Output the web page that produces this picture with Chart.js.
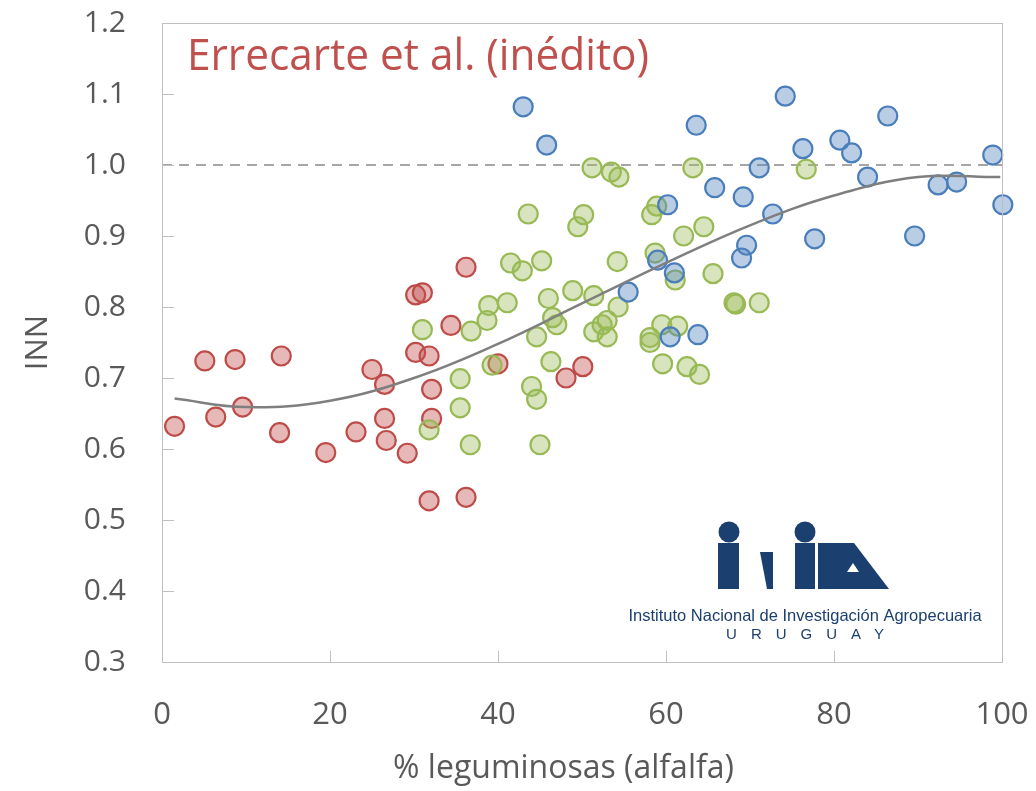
<!DOCTYPE html>
<html>
<head>
<meta charset="utf-8">
<script src="https://cdn.jsdelivr.net/npm/chart.js@4.4.1/dist/chart.umd.min.js"></script>
<style>
  body { margin: 0; background: #fff; }
  #wrap { width: 1036px; height: 791px; }
</style>
</head>
<body>
<div id="wrap"><canvas id="inn_chart" width="1036" height="791"></canvas></div>
<script>
// % leguminosas vs INN, three groups
let redX = [1.5, 5.1, 6.4, 8.7, 9.6, 14.2, 14.0, 19.5, 23.1, 25.0, 26.5, 26.5, 26.7, 29.2, 30.2, 31.0, 30.2, 31.8, 32.1, 32.1, 31.8, 34.4, 36.2, 36.2, 40.0, 48.1, 50.1];
let redY = [0.632, 0.724, 0.645, 0.726, 0.659, 0.731, 0.623, 0.595, 0.624, 0.712, 0.691, 0.643, 0.612, 0.594, 0.817, 0.820, 0.736, 0.731, 0.684, 0.643, 0.527, 0.774, 0.856, 0.532, 0.720, 0.700, 0.716];

let greenX = [51.2, 53.5, 54.4, 63.2, 76.7, 43.6, 50.2, 49.5, 58.9, 58.3, 62.1, 64.5, 41.5, 42.9, 45.2, 54.2, 58.7, 61.1, 65.6, 48.9, 51.4, 54.3, 46.0, 38.9, 41.1, 38.7, 36.8, 31.0, 46.5, 47.0, 51.4, 52.4, 53.0, 53.0, 59.5, 61.4, 44.6, 58.1, 58.1, 39.3, 35.5, 35.5, 31.8, 36.7, 44.0, 44.6, 45.0, 46.3, 59.6, 62.5, 64.0, 68.1, 68.3, 71.1];
let greenY = [0.996, 0.990, 0.983, 0.996, 0.994, 0.931, 0.930, 0.913, 0.942, 0.930, 0.900, 0.913, 0.862, 0.851, 0.865, 0.864, 0.876, 0.838, 0.847, 0.823, 0.816, 0.800, 0.812, 0.802, 0.806, 0.781, 0.766, 0.768, 0.785, 0.775, 0.765, 0.775, 0.781, 0.758, 0.775, 0.773, 0.758, 0.757, 0.750, 0.718, 0.699, 0.658, 0.627, 0.606, 0.688, 0.670, 0.606, 0.723, 0.720, 0.716, 0.705, 0.806, 0.804, 0.806];

let blueX = [43.0, 45.8, 55.5, 60.2, 59.0, 61.0, 60.5, 63.8, 63.6, 65.8, 69.2, 69.6, 69.0, 71.1, 72.7, 74.2, 76.3, 77.7, 80.7, 82.1, 84.0, 86.4, 89.6, 92.4, 94.6, 98.9, 100.1];
let blueY = [1.082, 1.028, 0.821, 0.944, 0.866, 0.848, 0.758, 0.761, 1.056, 0.968, 0.955, 0.887, 0.869, 0.996, 0.931, 1.097, 1.023, 0.896, 1.035, 1.017, 0.983, 1.069, 0.900, 0.972, 0.976, 1.014, 0.944];

// trend line
let trendX = [1.5, 10, 20, 30, 40, 50, 60, 70, 80, 90, 99.8];
let trendY = [0.671, 0.659, 0.668, 0.700, 0.748, 0.805, 0.862, 0.915, 0.957, 0.983, 0.983];

let refX = [0, 100];
let refY = [1.0, 1.0];

let xTicks = [0, 20, 40, 60, 80, 100];
let yTicks = [0.3, 0.4, 0.5, 0.6, 0.7, 0.8, 0.9, 1.0, 1.1, 1.2];

let chartTitle = 'Errecarte et al. (inédito)';
let xTitle = '% leguminosas (alfalfa)';
let logoLine1 = 'Instituto Nacional de Investigación Agropecuaria';
let logoLine2 = 'URUGUAY';

function toPoints(xs, ys){
  return xs.map((x, i) => ({ x: x, y: ys[i] }));
}

function scatterSet(xs, ys, color, fill, order){
  return {
    type: 'scatter',
    data: toPoints(xs, ys),
    borderColor: color,
    backgroundColor: fill,
    borderWidth: 2.2,
    pointRadius: 9.5,
    pointHoverRadius: 9.5,
    clip: false,
    order: order
  };
}

function noScalePadding(s){
  s.paddingTop = 0; s.paddingBottom = 0;
  s.paddingLeft = 0; s.paddingRight = 0;
}

let frameAndLabels = {
  id: 'frameAndLabels',
  afterDraw(chart){
    let ctx = chart.ctx, a = chart.chartArea;
    let xs = chart.scales.x, ys = chart.scales.y;
    ctx.save();
    // box round the plot
    ctx.strokeStyle = '#bfbfbf';
    ctx.lineWidth = 1;
    ctx.strokeRect(a.left + 0.5, a.top + 0.5, a.right - a.left, a.bottom - a.top);
    // inner tick marks
    ctx.beginPath();
    yTicks.forEach(v => {
      let py = Math.round(ys.getPixelForValue(v)) + 0.5;
      ctx.moveTo(a.left, py); ctx.lineTo(a.left + 12, py);
    });
    xTicks.forEach(v => {
      let px = Math.round(xs.getPixelForValue(v)) + 0.5;
      ctx.moveTo(px, a.bottom); ctx.lineTo(px, a.bottom - 11);
    });
    ctx.stroke();

    // x axis title (sits a little left of centre in the original)
    ctx.fillStyle = '#595959';
    ctx.font = "32px 'Open Sans', sans-serif";
    ctx.textAlign = 'center';
    ctx.textBaseline = 'middle';
    ctx.fillText(xTitle, a.left + (a.right - a.left) * 0.478, a.bottom + 107);

    // title inside the plot
    ctx.fillStyle = '#c0504d';
    ctx.font = "44px 'Open Sans', sans-serif";
    ctx.textBaseline = 'alphabetic';
    ctx.textAlign = 'left';
    ctx.fillText(chartTitle, a.left + 25, a.top + 47, 462);

    // INIA logo
    let navy = '#1b3f6e';
    let lx = a.right - 284, ly = a.bottom - 141;
    ctx.fillStyle = navy;
    ctx.beginPath(); ctx.arc(lx + 11, ly + 11, 10.5, 0, Math.PI * 2); ctx.fill();
    ctx.fillRect(lx, ly + 22, 21, 46);
    ctx.beginPath();
    ctx.moveTo(lx + 42, ly + 31); ctx.lineTo(lx + 55, ly + 31);
    ctx.lineTo(lx + 55, ly + 68); ctx.lineTo(lx + 49, ly + 68);
    ctx.closePath(); ctx.fill();
    ctx.beginPath(); ctx.arc(lx + 87, ly + 11, 10.5, 0, Math.PI * 2); ctx.fill();
    ctx.fillRect(lx + 77, ly + 22, 20, 46);
    ctx.beginPath();
    ctx.moveTo(lx + 100, ly + 22); ctx.lineTo(lx + 136, ly + 22);
    ctx.lineTo(lx + 171, ly + 68); ctx.lineTo(lx + 100, ly + 68);
    ctx.closePath(); ctx.fill();
    ctx.fillStyle = '#fff';
    ctx.beginPath();
    ctx.moveTo(lx + 135, ly + 42); ctx.lineTo(lx + 141, ly + 51);
    ctx.lineTo(lx + 129, ly + 51);
    ctx.closePath(); ctx.fill();

    ctx.fillStyle = navy;
    ctx.textAlign = 'center';
    ctx.textBaseline = 'middle';
    ctx.font = "16.5px 'Liberation Sans', Arial, sans-serif";
    ctx.fillText(logoLine1, lx + 87, ly + 95, 356);
    ctx.font = "15px 'Liberation Sans', Arial, sans-serif";
    ctx.letterSpacing = '14px';
    ctx.fillText(logoLine2, lx + 94, ly + 114);
    ctx.restore();
  }
};

Chart.defaults.font.family = "'Open Sans', sans-serif";
Chart.defaults.color = '#595959';

new Chart('inn_chart', {
  data: {
    datasets: [
      {
        type: 'line',
        data: toPoints(trendX, trendY),
        borderColor: '#7f7f7f',
        borderWidth: 2.5,
        pointRadius: 0,
        tension: 0.4,
        fill: false,
        order: 0
      },
      scatterSet(blueX, blueY, '#4a7ebb', 'rgba(79,129,189,0.4)', 1),
      scatterSet(greenX, greenY, '#98b954', 'rgba(155,187,89,0.4)', 2),
      scatterSet(redX, redY, '#be4b48', 'rgba(192,80,77,0.4)', 3),
      {
        type: 'line',
        data: toPoints(refX, refY),
        borderColor: '#a6a6a6',
        borderWidth: 2,
        borderDash: [10, 7],
        pointRadius: 0,
        fill: false,
        order: 4
      }
    ]
  },
  options: {
    responsive: false,
    animation: false,
    events: [],
    layout: { padding: { top: 23, right: 34, left: 0, bottom: 0 } },
    plugins: { legend: { display: false }, tooltip: { enabled: false } },
    scales: {
      x: {
        type: 'linear',
        min: 0, max: 100,
        afterBuildTicks: s => { s.ticks = xTicks.map(v => ({ value: v })); },
        afterFit: s => { s.height = 129; noScalePadding(s); },
        grid: { display: false, drawTicks: false },
        border: { display: false },
        ticks: { padding: 35, font: { size: 31 }, color: '#595959' },
        title: { display: false }
      },
      y: {
        type: 'linear',
        min: 0.3, max: 1.2,
        afterBuildTicks: s => { s.ticks = yTicks.map(v => ({ value: v })); },
        afterFit: s => { s.width = 162; noScalePadding(s); },
        grid: { display: false, drawTicks: false },
        border: { display: false },
        ticks: {
          padding: 36,
          font: { size: 30 },
          color: '#595959',
          callback: v => v.toFixed(1)
        },
        title: {
          display: true,
          text: 'INN',
          font: { size: 31 },
          color: '#595959',
          padding: { top: 20, bottom: 0 }
        }
      }
    }
  },
  plugins: [frameAndLabels]
});
</script>
</body>
</html>
